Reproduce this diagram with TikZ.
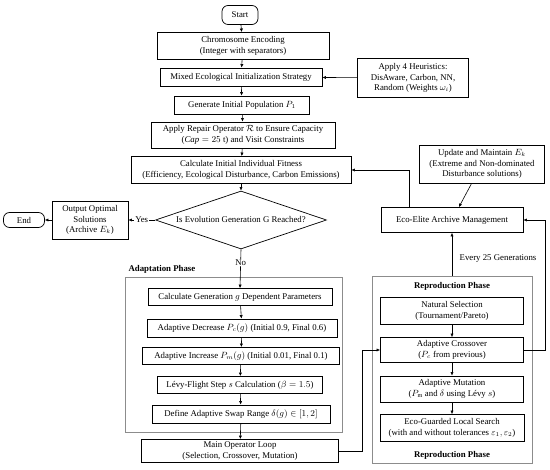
\documentclass[tikz,border=0pt]{standalone}
\usepackage{fontspec}
\setmainfont{Liberation Serif}
\usetikzlibrary{shapes.geometric,arrows.meta}
\begin{document}
\begin{tikzpicture}[x=1pt,y=-1pt,
        font=\fontsize{8.8}{10.6}\selectfont,
        box/.style={draw=black,rectangle,line width=0.7pt,fill=white,align=center,inner sep=1pt},
        term/.style={box,rounded corners=6pt},
        decide/.style={draw=black,diamond,aspect=2.95,line width=0.7pt,fill=white,align=center,inner sep=0pt},
        phase/.style={draw=black!45,rectangle,line width=0.5pt},
        title/.style={font=\fontsize{8.8}{10.6}\selectfont\bfseries},
        arr/.style={-{Latex[length=3.6pt,width=3.2pt]},line width=0.6pt}
      ]
      \useasboundingbox (0,0) rectangle (550,470);
      % phase frames
      \node[phase,minimum width=217,minimum height=155] (adapt) at (233.5,354.5) {};
      \node[title,anchor=west] at (125,269) {Adaptation Phase};
      \node[phase,minimum width=160,minimum height=187] (repro) at (452,369.5) {};
      \node[title] at (452,286) {Reproduction Phase};
      \node[title] at (452,455) {Reproduction Phase};
      % main chain
      \node[term,minimum width=36,minimum height=19] (start) at (240,15) {Start};
      \node[box,minimum width=172,minimum height=27] (enc) at (243,46) {Chromosome Encoding\\(Integer with separators)};
      \node[box,minimum width=162,minimum height=18] (mix) at (241,77) {Mixed Ecological Initialization Strategy};
      \node[box,minimum width=111,minimum height=39] (heur) at (413,78) {Apply 4 Heuristics:\\DisAware, Carbon, NN,\\Random (Weights $\omega_i$)};
      \node[box,minimum width=135,minimum height=18] (gen) at (242,105) {Generate Initial Population $P_1$};
      \node[box,minimum width=184,minimum height=26] (rep) at (243,135) {Apply Repair Operator $\mathcal{R}$ to Ensure Capacity\\($\mathit{Cap}=25$ t) and Visit Constraints};
      \node[box,minimum width=220,minimum height=27] (fit) at (241,170) {Calculate Initial Individual Fitness\\(Efficiency, Ecological Disturbance, Carbon Emissions)};
      \node[decide,minimum width=171,minimum height=58] (dec) at (241,220) {Is Evolution Generation G Reached?};
      \node[box,minimum width=76,minimum height=38] (out) at (90,220) {Output Optimal\\Solutions\\(Archive $E_k$)};
      \node[term,minimum width=41,minimum height=15] (end) at (24,220) {End};
      % adaptation phase
      \node[box,minimum width=184,minimum height=17] (cg) at (240,297) {Calculate Generation $g$ Dependent Parameters};
      \node[box,minimum width=190,minimum height=18] (pc) at (242,328) {Adaptive Decrease $P_c(g)$ (Initial 0.9, Final 0.6)};
      \node[box,minimum width=197,minimum height=17] (pm) at (241,356) {Adaptive Increase $P_m(g)$ (Initial 0.01, Final 0.1)};
      \node[box,minimum width=165,minimum height=17] (levy) at (240,385) {Lévy-Flight Step $s$ Calculation ($\beta=1.5$)};
      \node[box,minimum width=178,minimum height=18] (swap) at (241,414) {Define Adaptive Swap Range $\delta(g)\in[1,2]$};
      \node[box,minimum width=197,minimum height=23] (loop) at (240,451) {Main Operator Loop\\(Selection, Crossover, Mutation)};
      % archive
      \node[box,minimum width=125,minimum height=38] (upd) at (482,164) {Update and Maintain $E_k$\\(Extreme and Non-dominated\\Disturbance solutions)};
      \node[box,minimum width=142,minimum height=25] (elite) at (452,220) {Eco-Elite Archive Management};
      % reproduction phase
      \node[box,minimum width=143,minimum height=27] (ns) at (452,311) {Natural Selection\\(Tournament/Pareto)};
      \node[box,minimum width=143,minimum height=25] (cx) at (452,350) {Adaptive Crossover\\($P_c$ from previous)};
      \node[box,minimum width=143,minimum height=26] (mu) at (452,389) {Adaptive Mutation\\($P_{\mathrm{m}}$ and $\delta$ using Lévy $s$)};
      \node[box,minimum width=144,minimum height=27] (ls) at (452,428) {Eco-Guarded Local Search\\(with and without tolerances $\varepsilon_1,\varepsilon_2$)};
      % connectors
      \foreach \a/\b in {start/enc,enc/mix,mix/gen,gen/rep,rep/fit,fit/dec,cg/pc,pc/pm,pm/levy,levy/swap,swap/loop,ns/cx,cx/mu,mu/ls,upd/elite}
        \draw[arr] (\a) -- (\b);
      \draw[arr] (heur) -- (mix);
      \draw[arr] (dec.west) -- node[fill=white,inner sep=1pt] {Yes} (out.east);
      \draw[arr] (out) -- (end);
      \draw[arr] (dec.south) -- node[pos=0.34,fill=white,inner sep=1pt] {No} (cg.north);
      \draw[arr] ([xshift=-43pt]elite.north) |- (fit.east);
      \draw[arr] (repro.north) -- node[right=4pt,pos=0.4] {Every 25 Generations} (elite.south);
      \draw[arr] (cx.east) -- ++(21,0) |- (elite.east);
      \draw[arr] (loop.east) -- ++(23,0) |- (cx.west);
    \end{tikzpicture}
\end{document}
